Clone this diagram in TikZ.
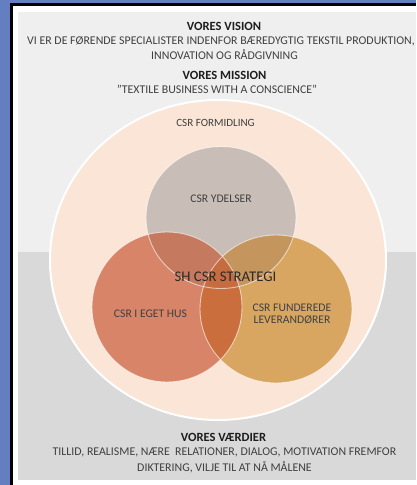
\documentclass[tikz,border=0pt]{standalone}
\usepackage{fontspec}
\setmainfont{Carlito}
\definecolor{bluebg}{RGB}{99,127,191}
\definecolor{paneltop}{RGB}{239,239,239}
\definecolor{panelbot}{RGB}{217,217,217}
\definecolor{peach}{RGB}{251,229,214}
\definecolor{grayC}{RGB}{201,190,183}
\definecolor{leftC}{RGB}{216,132,104}
\definecolor{rightC}{RGB}{217,166,98}
\definecolor{LGc}{RGB}{197,122,96}
\definecolor{RGc}{RGB}{196,150,94}
\definecolor{LRc}{RGB}{203,110,62}
\definecolor{LRGc}{RGB}{197,109,64}
\definecolor{txt}{RGB}{64,64,64}
\definecolor{headtxt}{RGB}{30,30,30}
\newcommand\pathG{(221,217.5) ellipse [x radius=75, y radius=71]}
\newcommand\pathL{(167,307) ellipse [x radius=75, y radius=75]}
\newcommand\pathR{(276,309) ellipse [x radius=76, y radius=74]}
\begin{document}
\begin{tikzpicture}[x=1bp,y=-1bp,
  head/.style={font=\fontsize{12.6}{14}\selectfont\bfseries, text=headtxt, inner sep=0pt},
  body/.style={font=\fontsize{11.9}{13}\selectfont, text=txt, inner sep=0pt},
  label/.style={font=\fontsize{11.7}{12.4}\selectfont, text=txt, inner sep=0pt, align=center},
  ring/.style={draw=white, draw opacity=0.6, line width=0.9bp}]
\useasboundingbox (0,0) rectangle (416,485);
\fill[bluebg] (0,0) rectangle (416,485);
\fill[white] (12,5) rectangle (416,485);
\draw[black, line width=2.2bp] (11.5,485) -- (11.5,4.6) -- (416,4.6);
\fill[paneltop] (18,12) rectangle (416,252);
\fill[panelbot] (18,252) rectangle (416,480);
% outer circle
\path[fill=peach, draw=white, line width=2bp] (218,260) ellipse [x radius=168, y radius=160];
% venn circles
\fill[grayC] \pathG;
\fill[leftC] \pathL;
\fill[rightC] \pathR;
\begin{scope}\clip \pathL; \fill[LGc] \pathG; \end{scope}
\begin{scope}\clip \pathR; \fill[RGc] \pathG; \end{scope}
\begin{scope}\clip \pathR; \clip \pathL; \fill[LRc] \pathL; \clip \pathG; \fill[LRGc] \pathG; \end{scope}
\draw[ring] \pathG;
\draw[ring] \pathL;
\draw[ring] \pathR;
% texts
\node[head] (vision) at (224,26) {VORES VISION};
\node[body] (vis1) at (221,41) {VI ER DE FØRENDE SPECIALISTER INDENFOR BÆREDYGTIG TEKSTIL PRODUKTION,};
\node[body] (vis2) at (224.5,54.5) {INNOVATION OG RÅDGIVNING};
\node[head] (mission) at (224.5,75) {VORES MISSION};
\node[body] (mis1) at (217,89) {"TEXTILE BUSINESS WITH A CONSCIENCE"};
\node[font=\fontsize{11.1}{13}\selectfont, text=txt, inner sep=0pt] (formid) at (215.5,123) {CSR FORMIDLING};
\node[label] (ydelser) at (221,199) {CSR YDELSER};
\node[font=\fontsize{14.8}{17}\selectfont, text={rgb,255:red,45;green,40;blue,38}, inner sep=0pt] (strategi) at (225.5,277) {SH CSR STRATEGI};
\node[label] (eget) at (150.5,314) {CSR I EGET HUS};
\node[label] (fund) at (292,314) {CSR FUNDEREDE\\LEVERANDØRER};
\node[head] (vaerdier) at (223.5,437.5) {VORES VÆRDIER};
\node[body] (vae1) at (224.5,452) {TILLID, REALISME, NÆRE\ \ RELATIONER, DIALOG, MOTIVATION FREMFOR};
\node[body] (vae2) at (224.5,467) {DIKTERING, VILJE TIL AT NÅ MÅLENE};
\end{tikzpicture}
\end{document}
